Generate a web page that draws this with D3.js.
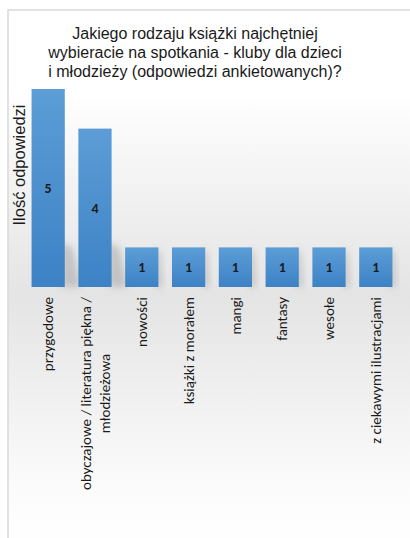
<!DOCTYPE html>
<html><head><meta charset="utf-8">
<script src="https://cdn.jsdelivr.net/npm/d3@7"></script>
<style>html,body{margin:0;padding:0;background:#fff;}</style>
</head><body>
<script>
const categories = [
  ["przygodowe"],
  ["obyczajowe / literatura piękna /", "młodzieżowa"],
  ["nowości"],
  ["książki z morałem"],
  ["mangi"],
  ["fantasy"],
  ["wesołe"],
  ["z ciekawymi ilustracjami"]
];
const values = [5, 4, 1, 1, 1, 1, 1, 1];
const titleLines = ["Jakiego rodzaju książki najchętniej", "wybieracie na spotkania - kluby dla dzieci", "i młodzieży (odpowiedzi ankietowanych)?"];
const yTitle = "Ilość odpowiedzi";

const W = 410, H = 538;
const svg = d3.select("body").append("svg").attr("width", W).attr("height", H);
const defs = svg.append("defs");

const bg = defs.append("linearGradient").attr("id","bg").attr("x1",0).attr("y1",0).attr("x2",0).attr("y2",1);
[[0,"#ffffff"],[0.15,"#ffffff"],[0.53,"#e4e4e4"],[0.9,"#fcfcfc"],[1,"#ffffff"]].forEach(s=>bg.append("stop").attr("offset",s[0]).attr("stop-color",s[1]));
const bar = defs.append("linearGradient").attr("id","bar").attr("x1",0).attr("y1",0).attr("x2",0).attr("y2",1);
[[0,"#5c9dd6"],[1,"#3c82c5"]].forEach(s=>bar.append("stop").attr("offset",s[0]).attr("stop-color",s[1]));
defs.append("filter").attr("id","blur").attr("x","-50%").attr("y","-50%").attr("width","200%").attr("height","200%")
  .append("feGaussianBlur").attr("stdDeviation",3.5);

// frame
svg.append("rect").attr("x",8).attr("y",10).attr("width",W).attr("height",H)
  .attr("fill","url(#bg)").attr("stroke","#d9d9d9").attr("stroke-width",1.5);

const x = d3.scaleBand().domain(d3.range(categories.length)).range([25, 399]).paddingInner(0.29).paddingOuter(0.14);
const y = d3.scaleLinear().domain([0, 5]).range([287, 89]);

// soft shadows behind bars
const g = svg.append("g");
g.selectAll("path.sh").data(values).join("path").attr("class","sh")
  .attr("d",(d,i)=>{
    const x1 = x(i)+x.bandwidth(), yt = y(d), yb = y(0);
    const h = yb-yt;
    const dx = Math.min(16, h*0.1), top = yb - Math.min(h, 45);
    return `M${x1-3},${top}L${x1+dx*0.5},${top+6}L${x1+dx},${yb}L${x1-3},${yb}Z`;
  })
  .attr("fill","#8c8c8c").attr("opacity",0.4).attr("filter","url(#blur)");

g.selectAll("rect.bar").data(values).join("rect").attr("class","bar")
  .attr("x",(d,i)=>x(i)).attr("width",x.bandwidth())
  .attr("y",d=>y(d)).attr("height",d=>y(0)-y(d)).attr("fill","url(#bar)");

g.selectAll("text.val").data(values).join("text").attr("class","val")
  .attr("x",(d,i)=>x(i)+x.bandwidth()/2).attr("y",d=>(y(d)+y(0))/2)
  .attr("dy","0.35em").attr("text-anchor","middle")
  .attr("font-family","Carlito, Lato, 'Open Sans', sans-serif").attr("font-weight","bold").attr("font-size",14)
  .attr("fill","#1a1a1a").text(d=>d);

// x labels
const xl = svg.append("g").attr("font-family","Carlito, Lato, 'Open Sans', sans-serif").attr("font-size",15).attr("fill","#1a1a1a");
categories.forEach((lines,i)=>{
  const cx = x(i)+x.bandwidth()/2;
  const lh = 19;
  const gg = xl.append("g").attr("transform",`translate(${cx - (lines.length-1)*lh/2},297) rotate(-90)`);
  const ts = lines.map((t,j)=>gg.append("text").attr("x",0).attr("y",j*lh).attr("dy","0.35em").text(t));
  const maxW = d3.max(ts, t=>t.node().getComputedTextLength());
  ts.forEach(t=>t.attr("text-anchor","middle").attr("x",-maxW/2));
});

// title
svg.append("g").selectAll("text").data(titleLines).join("text")
  .attr("x",195).attr("y",(d,i)=>39+i*19).attr("text-anchor","middle")
  .attr("font-family","'Liberation Sans', Arial, sans-serif").attr("font-size",16).attr("fill","#1a1a1a").text(d=>d);

// y title
svg.append("text").attr("transform","translate(25,165) rotate(-90)").attr("text-anchor","middle")
  .attr("font-family","'Liberation Sans', Arial, sans-serif").attr("font-size",16.5).attr("fill","#1a1a1a").text(yTitle);
</script>
</body></html>
